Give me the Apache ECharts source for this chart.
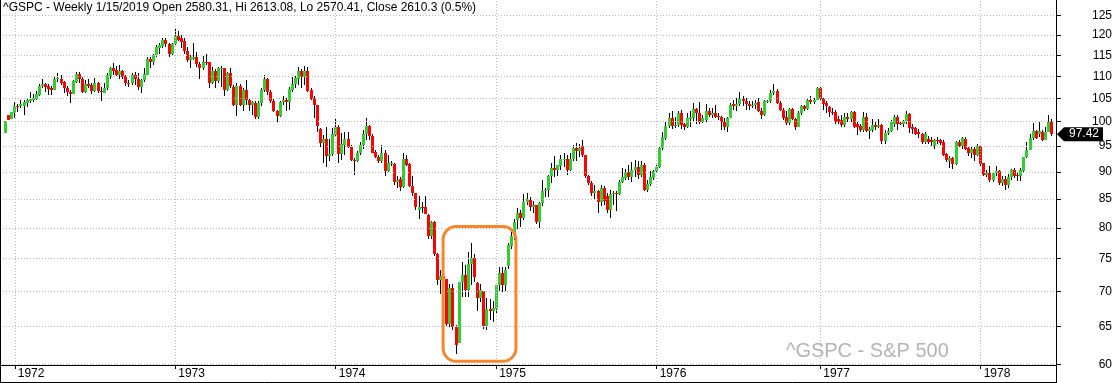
<!DOCTYPE html>
<html>
<head>
<meta charset="utf-8">
<script src="https://cdn.jsdelivr.net/npm/echarts@6.0.0/dist/echarts.min.js"></script>
<style>
html,body{margin:0;padding:0;background:#fff;}
#chart{width:1117px;height:383px;}
</style>
</head>
<body>
<div id="chart"></div>
<script>
// ---------------- data (weekly ^GSPC, Dec 1971 - Jun 1978) ----------------
const firstWeek = '1971-12-17';
const yTickValues = [60, 65, 70, 75, 80, 85, 90, 95, 100, 105, 110, 115, 120, 125];
const titleText = '^GSPC - Weekly 1/15/2019 Open 2580.31, Hi 2613.08, Lo 2570.41, Close 2610.3 (0.5%)';
const watermarkText = '^GSPC - S&P 500';
const highlightWeeks = [141.8, 165.4];
const highlightPrices = [80.2, 60.4];

const open = [
97.6,101.4,100.6,101.9,103.4,103.3,103.4,104.0,104.5,104.7,
105.0,105.8,107.8,108.2,107.8,107.4,107.0,109.3,109.5,108.7,
107.4,106.5,106.1,108.8,110.5,109.5,106.5,108.2,108.0,106.7,
108.4,106.7,106.3,107.3,110.0,111.9,111.4,110.3,111.2,110.0,
108.6,108.4,110.3,109.3,107.6,109.2,110.3,114.2,113.5,115.1,
116.9,117.3,118.7,117.7,115.4,117.7,119.7,119.2,118.6,116.1,
113.9,114.2,114.7,112.8,112.0,113.5,113.3,108.6,111.2,108.9,
111.8,111.9,107.0,110.7,107.5,103.6,107.7,103.6,106.9,104.7,
103.5,104.0,101.1,104.0,106.9,109.3,106.5,104.5,102.3,101.3,
104.3,104.7,104.2,107.0,108.2,109.5,111.2,109.8,111.2,106.9,
105.1,103.6,98.4,95.7,96.4,93.1,93.4,97.2,98.9,93.5,
95.2,96.5,94.8,92.3,92.0,93.6,95.2,97.5,99.1,97.1,
93.9,92.9,92.0,93.6,90.1,91.5,91.5,88.1,88.7,87.2,
92.4,91.4,87.4,86.0,83.1,83.6,83.6,82.1,78.6,80.9,
75.7,71.6,72.3,71.8,65.3,70.4,64.9,62.8,71.3,72.4,
70.2,74.1,75.0,71.2,69.0,70.1,65.0,67.4,67.2,67.4,
70.9,72.8,70.9,73.8,77.0,78.6,81.3,82.6,81.6,84.4,
84.9,83.5,83.9,80.9,84.2,86.4,86.7,89.2,90.7,90.4,
91.1,92.3,92.5,90.4,92.5,94.7,94.0,95.0,93.2,89.3,
87.9,86.1,86.4,84.4,86.9,85.5,83.1,85.9,86.1,85.9,
88.1,88.9,89.9,89.1,90.3,90.9,89.4,91.2,86.7,87.8,
88.9,90.1,90.9,94.7,96.7,99.1,100.8,99.2,99.3,101.9,
99.5,99.0,100.6,100.7,102.7,101.9,100.0,100.3,102.3,101.4,
101.8,101.2,101.1,100.0,98.8,100.7,103.8,103.4,103.9,105.0,
104.4,103.9,103.3,103.6,104.2,102.3,101.4,104.4,104.4,106.2,
106.6,104.1,102.4,100.9,99.8,102.7,100.5,99.0,101.8,103.3,
102.7,104.7,104.2,104.7,107.4,104.9,104.0,103.1,102.0,102.0,
100.5,100.3,99.3,100.9,100.5,102.0,99.6,99.1,98.2,101.1,
98.1,98.2,99.3,98.8,99.3,96.0,97.7,98.1,99.6,101.0,
99.7,99.6,100.2,101.7,98.8,98.6,97.9,97.4,95.8,96.5,
96.3,95.0,96.3,96.3,95.8,93.4,92.0,92.6,91.4,95.8,
95.0,96.5,94.6,93.6,94.5,93.2,95.0,91.6,89.4,89.8,
88.4,89.7,90.1,87.9,88.7,87.5,89.0,90.3,89.4,89.2,
90.1,92.8,94.2,96.7,98.0,97.4,97.9,96.3,97.9,100.0
];
const high = [
100.1,101.4,102.0,104.2,103.9,104.7,104.6,105.2,106.5,106.0,
106.7,108.2,109.3,108.6,108.3,107.8,109.9,110.7,110.3,109.0,
107.8,106.8,109.2,111.0,111.0,109.9,109.2,109.3,108.4,109.7,
108.8,107.6,108.4,110.8,112.3,113.1,112.5,112.7,111.6,110.4,
109.2,110.7,111.1,110.7,109.5,111.9,114.6,114.6,115.4,117.5,
117.9,119.2,119.2,117.9,117.9,121.5,121.0,120.0,119.3,117.1,
115.1,118.0,115.7,113.4,114.9,115.2,113.5,112.1,111.7,112.3,
112.5,112.0,111.1,111.9,108.0,108.4,108.2,107.3,109.2,105.2,
104.5,104.4,104.5,107.3,110.4,109.6,106.9,105.0,102.5,104.5,
105.6,105.1,107.6,109.9,110.1,112.3,111.7,112.5,112.1,107.3,
105.5,103.6,98.6,97.2,99.0,96.5,98.6,100.5,99.3,97.6,
97.9,97.8,95.2,92.7,94.0,95.8,98.2,100.7,99.3,97.5,
94.2,93.2,95.2,94.2,93.2,92.0,91.7,89.3,89.0,93.6,
93.2,91.6,89.3,86.0,85.6,84.5,85.6,82.3,81.1,81.1,
75.9,73.2,73.0,71.8,71.1,71.1,65.2,71.4,74.5,73.9,
76.0,77.5,75.7,71.3,71.1,70.1,69.0,68.9,68.5,70.9,
73.6,73.6,73.6,77.5,79.5,81.5,83.4,83.0,85.8,86.0,
85.3,84.7,84.0,84.4,88.4,86.9,89.4,91.7,93.0,91.3,
93.2,93.6,93.2,93.6,95.2,95.6,95.5,96.2,93.3,89.4,
88.2,87.6,86.7,87.6,87.3,86.1,86.7,86.4,86.4,88.5,
90.8,90.6,91.3,91.8,92.3,92.1,92.0,91.6,88.5,90.1,
90.4,91.2,94.8,97.9,100.0,101.8,102.3,101.1,102.3,102.5,
99.8,101.8,102.2,104.0,102.9,104.2,101.4,103.9,102.9,102.9,
103.6,101.8,101.2,100.7,101.1,104.0,104.6,105.1,106.5,105.6,
105.1,104.5,104.4,104.7,105.1,102.9,104.6,104.7,106.9,108.3,
107.1,104.4,102.9,102.2,102.9,102.9,100.7,102.2,103.6,103.6,
105.1,105.6,105.1,107.6,107.6,105.1,104.4,103.3,102.9,102.5,
101.2,101.4,101.8,101.8,102.2,102.2,100.0,99.6,102.0,101.8,
99.0,100.5,100.0,100.5,99.6,98.2,98.6,100.3,101.4,101.4,
100.0,100.3,102.2,101.8,99.5,99.0,98.4,97.6,97.9,97.0,
96.8,96.5,96.8,96.5,96.3,93.6,93.0,92.9,96.0,96.3,
96.8,96.8,94.8,94.8,94.8,95.4,95.2,91.7,90.3,91.1,
90.0,91.1,90.4,89.2,89.2,89.6,90.6,90.8,89.8,90.8,
92.9,95.8,97.5,99.8,98.2,100.0,98.2,99.0,101.4,100.5
];
const low = [
97.6,100.4,100.6,100.8,102.0,102.9,101.4,103.1,104.0,104.3,
104.7,105.6,107.3,106.5,105.8,105.8,106.8,108.8,108.0,106.2,
105.5,104.0,106.0,108.4,108.6,106.2,106.2,107.4,106.0,106.5,
106.2,104.4,106.2,106.9,109.5,110.4,110.1,109.3,109.5,107.8,
107.6,108.0,108.0,106.9,106.3,108.8,110.3,112.0,112.7,114.6,
115.4,116.7,117.1,114.5,115.1,117.5,118.5,116.8,115.4,113.4,
111.9,113.9,112.3,109.5,111.5,112.7,107.4,108.2,107.4,108.4,
107.6,105.5,106.7,107.3,103.3,101.3,103.3,102.3,103.6,102.2,
101.4,100.6,100.5,103.3,106.5,105.8,104.0,102.0,99.9,101.1,
103.6,102.2,102.5,106.5,107.3,108.0,107.3,108.0,106.5,104.7,
100.7,97.8,94.8,91.7,91.0,92.0,93.1,96.9,91.7,92.3,
93.2,94.6,92.0,89.4,91.8,93.2,94.4,96.3,96.3,93.6,
92.6,91.7,91.7,89.2,89.9,91.1,87.6,87.0,86.5,86.9,
91.1,87.2,85.6,83.1,81.5,82.5,82.3,78.1,78.1,75.4,
70.9,69.6,70.8,65.1,64.9,64.5,61.3,62.8,69.1,69.1,
69.1,70.9,71.3,67.1,68.4,64.6,64.5,65.9,65.6,66.7,
70.1,69.9,70.1,73.4,76.5,78.0,79.8,80.2,81.3,84.0,
82.9,82.6,80.6,80.0,83.8,85.3,85.3,87.9,89.0,89.3,
90.4,91.0,89.4,90.1,92.1,92.1,92.9,92.9,88.9,87.6,
85.6,84.9,82.5,83.8,84.0,82.6,81.7,84.0,82.9,85.7,
87.9,88.5,88.5,88.0,89.1,88.6,89.1,86.4,86.2,87.3,
88.5,89.8,90.8,94.3,96.2,98.6,98.4,98.6,99.0,98.4,
98.2,98.6,99.0,100.0,99.6,99.6,99.8,100.0,101.1,100.7,
100.7,100.3,98.2,98.2,97.9,100.7,102.5,102.2,103.3,103.4,
102.5,102.4,102.9,102.7,102.0,100.5,101.2,104.1,104.0,105.8,
103.9,102.2,100.3,99.3,99.3,100.3,98.2,98.8,101.4,102.2,
102.5,103.9,103.9,104.6,104.4,102.5,101.8,101.1,101.4,99.6,
99.6,99.0,99.0,100.0,100.0,98.6,97.2,97.9,97.9,97.9,
96.5,97.8,98.2,98.6,95.5,95.5,97.2,97.9,99.0,98.3,
99.3,99.0,99.6,97.7,97.5,97.2,96.7,95.5,95.5,95.4,
95.1,94.5,95.4,95.2,93.0,91.8,90.8,90.5,91.3,94.8,
94.5,94.2,93.1,92.6,92.0,93.0,91.1,89.3,89.0,88.1,
88.1,89.2,87.5,87.3,86.7,87.0,88.5,88.9,88.3,88.2,
89.9,92.6,94.2,96.3,96.5,96.9,96.0,96.2,97.8,97.0
];
const close = [
100.1,100.4,102.0,103.4,103.3,103.8,104.3,104.7,105.0,105.2,
106.0,107.8,108.2,107.6,107.2,107.0,109.5,109.7,108.6,107.4,
106.5,106.1,108.9,110.5,109.5,106.5,108.2,107.8,106.7,108.4,
106.6,106.4,107.3,110.3,111.9,111.3,110.4,111.2,109.9,108.6,
108.2,110.3,109.3,107.6,109.2,110.5,114.2,113.5,115.1,117.0,
117.5,118.7,117.7,115.3,117.7,119.7,118.8,118.3,116.1,113.9,
114.6,114.7,112.8,112.0,113.5,113.1,108.6,111.2,108.9,112.0,
112.0,107.0,110.7,107.8,103.6,107.8,103.6,106.9,104.7,103.5,
104.2,101.1,104.0,106.9,109.3,106.5,104.5,102.2,101.3,104.3,
104.6,104.2,107.1,108.2,109.6,111.2,109.8,111.2,106.7,105.0,
103.6,99.1,95.7,96.4,93.1,93.5,97.4,98.9,93.5,95.4,
96.5,94.8,92.2,92.0,93.6,95.2,97.5,99.1,97.1,93.7,
92.9,92.0,93.6,90.1,91.6,91.6,88.1,88.5,87.2,92.4,
91.3,87.3,86.0,83.5,83.6,83.5,82.3,78.6,80.9,75.7,
71.6,72.3,71.8,65.3,70.4,64.9,62.5,71.3,72.4,70.2,
74.1,75.0,72.1,69.0,70.2,65.0,67.4,67.2,67.5,70.9,
72.8,70.9,73.2,77.2,78.6,81.0,82.5,81.6,84.4,85.0,
83.5,84.0,80.9,84.2,86.4,86.7,89.3,90.7,90.4,91.2,
92.4,92.5,90.4,92.5,94.7,94.0,94.7,93.2,89.3,87.9,
86.1,86.5,84.4,86.9,84.7,83.1,85.9,86.1,85.9,88.1,
89.0,89.9,89.1,90.3,90.9,89.4,91.2,86.7,87.8,89.0,
90.1,90.9,94.7,96.9,99.1,100.8,99.2,99.3,101.8,99.3,
99.0,100.8,100.9,102.7,101.9,100.0,100.7,102.3,101.4,101.8,
101.1,101.1,100.0,98.8,100.7,103.6,103.4,103.9,105.0,104.4,
103.9,103.3,103.6,104.0,102.2,101.4,104.4,104.5,106.2,106.6,
104.0,102.4,100.7,99.8,102.7,100.5,99.0,101.8,103.3,102.7,
104.7,104.2,104.7,107.4,104.9,103.9,103.4,102.0,101.8,100.0,
100.0,99.3,100.9,100.5,102.0,98.8,99.0,98.2,101.1,98.1,
98.4,99.3,98.8,99.3,96.0,97.7,98.1,100.0,101.0,99.6,
99.6,100.2,101.7,98.6,98.4,97.5,97.4,95.8,97.4,95.8,
95.8,96.3,96.0,95.6,93.2,92.2,92.6,91.4,95.8,95.0,
96.7,94.5,93.6,94.4,93.2,95.0,91.4,89.4,89.8,88.4,
89.7,90.1,87.9,88.7,87.5,89.0,90.3,89.3,89.2,90.3,
92.8,94.2,96.7,98.0,96.7,98.0,96.3,97.9,99.9,97.42
];

// ---------------- derived axis helpers ----------------
const weekDates = close.map(function (_, i) {
  const d = new Date(firstWeek + 'T00:00:00Z');
  d.setUTCDate(d.getUTCDate() + 7 * i);
  return d;
});
const yearStarts = [];
const yearLabelOf = {};
for (let i = 1; i < weekDates.length; i++) {
  const y = weekDates[i].getUTCFullYear();
  if (y !== weekDates[i - 1].getUTCFullYear()) {
    yearStarts.push(i);
    yearLabelOf[i] = String(y);
  }
}

const UP = '#33cc33', DOWN = '#ff0000';
const YMIN = 59.93, YMAX = 129.2;
const XMIN = -1.78, XMAX = 340.4;
const FONT = '"Liberation Sans", Arial, sans-serif';
const logTicks = yTickValues.map(function (v) { return Math.log(v); });

const candleData = close.map(function (c, i) { return [i, open[i], high[i], low[i], c]; });

function renderCandle(params, api) {
  const i = api.value(0), o = api.value(1), h = api.value(2), l = api.value(3), c = api.value(4);
  const pO = api.coord([i, o]), pC = api.coord([i, c]);
  const pH = api.coord([i, h]), pL = api.coord([i, l]);
  const cx = Math.floor(pO[0]);
  const yTop = Math.round(Math.min(pO[1], pC[1]));
  const yBot = Math.round(Math.max(pO[1], pC[1]));
  const wTop = Math.round(pH[1]), wBot = Math.round(pL[1]);
  return {
    type: 'group',
    children: [
      { type: 'rect', shape: { x: cx, y: wTop, width: 1, height: Math.max(1, wBot - wTop) },
        style: { fill: '#000' } },
      { type: 'rect', shape: { x: cx - 1, y: yTop, width: 3, height: Math.max(1, yBot - yTop) },
        style: { fill: c >= o ? UP : DOWN } }
    ]
  };
}

const gridMarks = yTickValues.map(function (v) { return { yAxis: v }; })
  .concat(yearStarts.map(function (i) { return { xAxis: i }; }));

const chart = echarts.init(document.getElementById('chart'), null, { renderer: 'canvas' });

chart.setOption({
  animation: false,
  backgroundColor: '#fff',
  title: {
    text: titleText, left: 3, top: 2, padding: 0,
    textStyle: { fontSize: 12, fontWeight: 'normal', color: '#000', fontFamily: FONT }
  },
  grid: { left: 0, right: 61, top: 0, bottom: 18, containLabel: false },
  xAxis: {
    type: 'value', min: XMIN, max: XMAX,
    axisLine: { show: true, onZero: false, lineStyle: { color: '#000', width: 1 } },
    axisTick: { show: true, customValues: yearStarts, length: 4, lineStyle: { color: '#000' } },
    axisLabel: {
      customValues: yearStarts,
      formatter: function (v) { return yearLabelOf[Math.round(v)] || ''; },
      align: 'left', padding: [0, 0, 0, 3], margin: 3,
      color: '#000', fontSize: 12, fontFamily: FONT
    },
    splitLine: { show: false }
  },
  yAxis: [
    { type: 'log', logBase: 10, min: YMIN, max: YMAX, show: false },
    {
      type: 'value', position: 'right', min: Math.log(YMIN), max: Math.log(YMAX),
      axisLine: { show: true, onZero: false, lineStyle: { color: '#000', width: 1 } },
      axisTick: { show: true, customValues: logTicks, length: 5, lineStyle: { color: '#000' } },
      axisLabel: {
        customValues: logTicks,
        formatter: function (v) { return String(Math.round(Math.exp(v))); },
        align: 'right', margin: 56, color: '#000', fontSize: 12, fontFamily: FONT
      },
      splitLine: { show: false }
    }
  ],
  series: [
    {
      type: 'line', data: [], xAxisIndex: 0, yAxisIndex: 0, z: 1, silent: true,
      markLine: {
        silent: true, animation: false, symbol: ['none', 'none'],
        label: { show: false },
        lineStyle: { color: '#b9b9b9', width: 1, type: [1, 2] },
        emphasis: { disabled: true },
        data: gridMarks
      }
    },
    {
      type: 'custom', name: '^GSPC', xAxisIndex: 0, yAxisIndex: 0, z: 3,
      renderItem: renderCandle, data: candleData,
      encode: { x: 0, y: [1, 2, 3, 4] }, clip: false
    }
  ]
});

// overlays placed through the axes' own scales
const lastClose = close[close.length - 1];
const tagY = chart.convertToPixel({ yAxisIndex: 0 }, lastClose);
const rightX = Math.round(chart.convertToPixel({ xAxisIndex: 0 }, XMAX));
const bottomY = Math.round(chart.convertToPixel({ yAxisIndex: 0 }, YMIN));
const hx1 = chart.convertToPixel({ xAxisIndex: 0 }, highlightWeeks[0]);
const hx2 = chart.convertToPixel({ xAxisIndex: 0 }, highlightWeeks[1]);
const hy1 = chart.convertToPixel({ yAxisIndex: 0 }, highlightPrices[0]);
const hy2 = chart.convertToPixel({ yAxisIndex: 0 }, highlightPrices[1]);
const H = chart.getHeight();

chart.setOption({
  graphic: [
    { type: 'line', z: 20, shape: { x1: 0.5, y1: 0, x2: 0.5, y2: H }, style: { stroke: '#000', lineWidth: 1 } },
    { type: 'line', z: 20, shape: { x1: 0, y1: H - 0.5, x2: rightX + 1, y2: H - 0.5 }, style: { stroke: '#000', lineWidth: 1 } },
    { type: 'line', z: 20, shape: { x1: rightX + 0.5, y1: bottomY, x2: rightX + 0.5, y2: H }, style: { stroke: '#000', lineWidth: 1 } },
    {
      type: 'text', z: 5,
      style: { text: watermarkText, x: 786, y: 351, verticalAlign: 'middle', fill: '#b4b4b4',
               font: '20px "Liberation Sans", Arial, sans-serif' }
    },
    {
      type: 'rect', z: 10,
      shape: { x: hx1, y: hy1, width: hx2 - hx1, height: hy2 - hy1, r: 13 },
      style: { fill: 'none', stroke: '#f5872f', lineWidth: 3 }
    },
    {
      type: 'polygon', z: 30,
      shape: { points: [[rightX + 1, tagY], [rightX + 8, tagY - 7], [rightX + 47, tagY - 7], [rightX + 47, tagY + 7], [rightX + 8, tagY + 7]] },
      style: { fill: '#000' }
    },
    {
      type: 'text', z: 31,
      style: { text: lastClose.toFixed(2), x: rightX + 28, y: tagY, align: 'center', verticalAlign: 'middle',
               fill: '#fff', font: '12px "Liberation Sans", Arial, sans-serif' }
    }
  ]
});
</script>
</body>
</html>
